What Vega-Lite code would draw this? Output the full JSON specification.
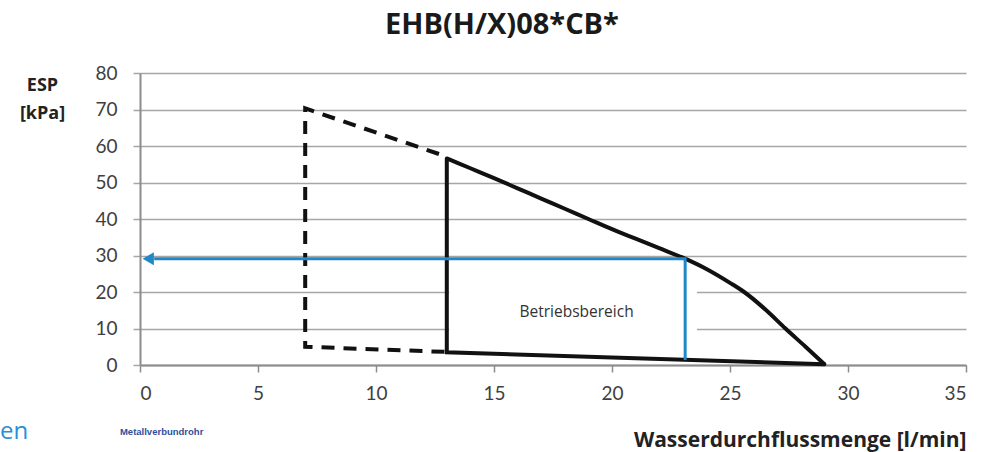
{
  "$schema": "https://vega.github.io/schema/vega-lite/v6.json",
  "width": 826,
  "height": 292,
  "autosize": {"type": "none"},
  "padding": {"left": 140, "top": 73, "right": 22, "bottom": 87},
  "background": "white",
  "config": {
    "view": {"stroke": null},
    "font": "Lato"
  },
  "title": {
    "text": "EHB(H/X)08*CB*",
    "font": "Open Sans",
    "fontSize": 29,
    "fontWeight": "bold",
    "color": "#1a1a1a",
    "anchor": "middle",
    "frame": "group",
    "dx": -51,
    "offset": 24
  },
  "encoding": {
    "x": {
      "field": "x", "type": "quantitative",
      "scale": {"domain": [0, 35], "nice": false, "zero": false},
      "axis": {
        "values": [0, 5, 10, 15, 20, 25, 30, 35],
        "grid": false,
        "labelFont": "Lato", "titleFont": "Open Sans",
        "domainColor": "#8c8c8c", "domainWidth": 2,
        "tickColor": "#8c8c8c", "tickSize": 7, "tickWidth": 1.5,
        "labelFontSize": 19, "labelColor": "#404040", "labelPadding": 12,
        "labelOverlap": false,
        "title": "Wasserdurchflussmenge [l/min]",
        "titleFontSize": 21, "titleFontWeight": "bold", "titleColor": "#222222",
        "titleAnchor": "end", "titleAlign": "right", "titleX": 826, "titleY": 75,
        "titleBaseline": "middle"
      }
    },
    "y": {
      "field": "y", "type": "quantitative",
      "scale": {"domain": [0, 80], "nice": false, "zero": false},
      "axis": {
        "values": [0, 10, 20, 30, 40, 50, 60, 70, 80],
        "grid": true, "gridColor": "#a6a6a6", "gridWidth": 1.5,
        "labelFont": "Lato", "titleFont": "Open Sans",
        "domainColor": "#8c8c8c", "domainWidth": 2,
        "tickColor": "#a6a6a6", "tickSize": 7, "tickWidth": 1.5,
        "labelFontSize": 19, "labelColor": "#404040", "labelPadding": 16,
        "labelOverlap": false,
        "title": ["ESP", "[kPa]"],
        "titleFontSize": 18, "titleFontWeight": "bold", "titleColor": "#222222",
        "titleAngle": 0, "titleAlign": "center", "titleBaseline": "top",
        "titleX": -98, "titleY": 3, "titleLineHeight": 28
      }
    }
  },
  "layer": [
    {
      "data": {"values": [{"x": 13.1, "x2": 23.6, "y": 1.6, "y2": 28.4}]},
      "mark": {"type": "rect", "color": "white"},
      "encoding": {
        "x2": {"field": "x2"},
        "y2": {"field": "y2"}
      }
    },
    {
      "data": {"values": [
        {"x": 13, "y": 56.6},
        {"x": 14, "y": 53.9},
        {"x": 15, "y": 51.2},
        {"x": 16, "y": 48.4},
        {"x": 17, "y": 45.6},
        {"x": 18, "y": 42.8},
        {"x": 19, "y": 40.0},
        {"x": 20, "y": 37.2},
        {"x": 21, "y": 34.6},
        {"x": 22, "y": 32.0},
        {"x": 23, "y": 29.4},
        {"x": 24, "y": 26.3},
        {"x": 25, "y": 22.5},
        {"x": 25.6, "y": 20.0},
        {"x": 26.5, "y": 15.2},
        {"x": 27.35, "y": 10.0},
        {"x": 28.2, "y": 5.0},
        {"x": 29, "y": 0.2}
      ]},
      "mark": {"type": "line", "color": "#111111", "strokeWidth": 4, "interpolate": "monotone"},
      "encoding": {}
    },
    {
      "data": {"values": [
        {"o": 0, "x": 29, "y": 0.2},
        {"o": 1, "x": 13, "y": 3.5},
        {"o": 2, "x": 13, "y": 56.6}
      ]},
      "mark": {"type": "line", "color": "#111111", "strokeWidth": 4, "strokeJoin": "miter", "strokeCap": "round"},
      "encoding": {
        "order": {"field": "o", "type": "quantitative"}
      }
    },
    {
      "data": {"values": [
        {"o": 0, "x": 12.9, "y": 3.6},
        {"o": 1, "x": 7, "y": 5},
        {"o": 2, "x": 7, "y": 70.3},
        {"o": 3, "x": 12.9, "y": 57.3}
      ]},
      "mark": {"type": "line", "color": "#111111", "strokeWidth": 4, "strokeDash": [13, 9]},
      "encoding": {
        "order": {"field": "o", "type": "quantitative"}
      }
    },
    {
      "data": {"values": [
        {"o": 0, "x": 23.1, "y": 1.4},
        {"o": 1, "x": 23.1, "y": 29.1},
        {"o": 2, "x": 0.6, "y": 29.1}
      ]},
      "mark": {"type": "line", "color": "#1f88c9", "strokeWidth": 3},
      "encoding": {
        "order": {"field": "o", "type": "quantitative"}
      }
    },
    {
      "data": {"values": [{"x": 0.35, "y": 29.1}]},
      "mark": {"type": "point", "shape": "triangle-left", "filled": true, "color": "#1f88c9", "size": 170, "opacity": 1},
      "encoding": {}
    },
    {
      "data": {"values": [{"x": 18.5, "y": 14.5, "t": "Betriebsbereich"}]},
      "mark": {"type": "text", "font": "Open Sans", "fontSize": 15.5, "color": "#333333", "align": "center", "baseline": "middle"},
      "encoding": {
        "text": {"field": "t"}
      }
    },
    {
      "data": {"values": [{"x": -5.93, "y": -18.4, "t": "en"}]},
      "mark": {"type": "text", "font": "Open Sans", "fontSize": 24, "color": "#2a8fd6", "align": "left", "baseline": "middle", "clip": false},
      "encoding": {
        "text": {"field": "t"}
      }
    },
    {
      "data": {"values": [{"x": -0.85, "y": -18.4, "t": "Metallverbundrohr"}]},
      "mark": {"type": "text", "font": "Liberation Sans", "fontSize": 9.5, "fontWeight": "bold", "color": "#2f4f9e", "align": "left", "baseline": "middle", "clip": false},
      "encoding": {
        "text": {"field": "t"}
      }
    }
  ]
}
